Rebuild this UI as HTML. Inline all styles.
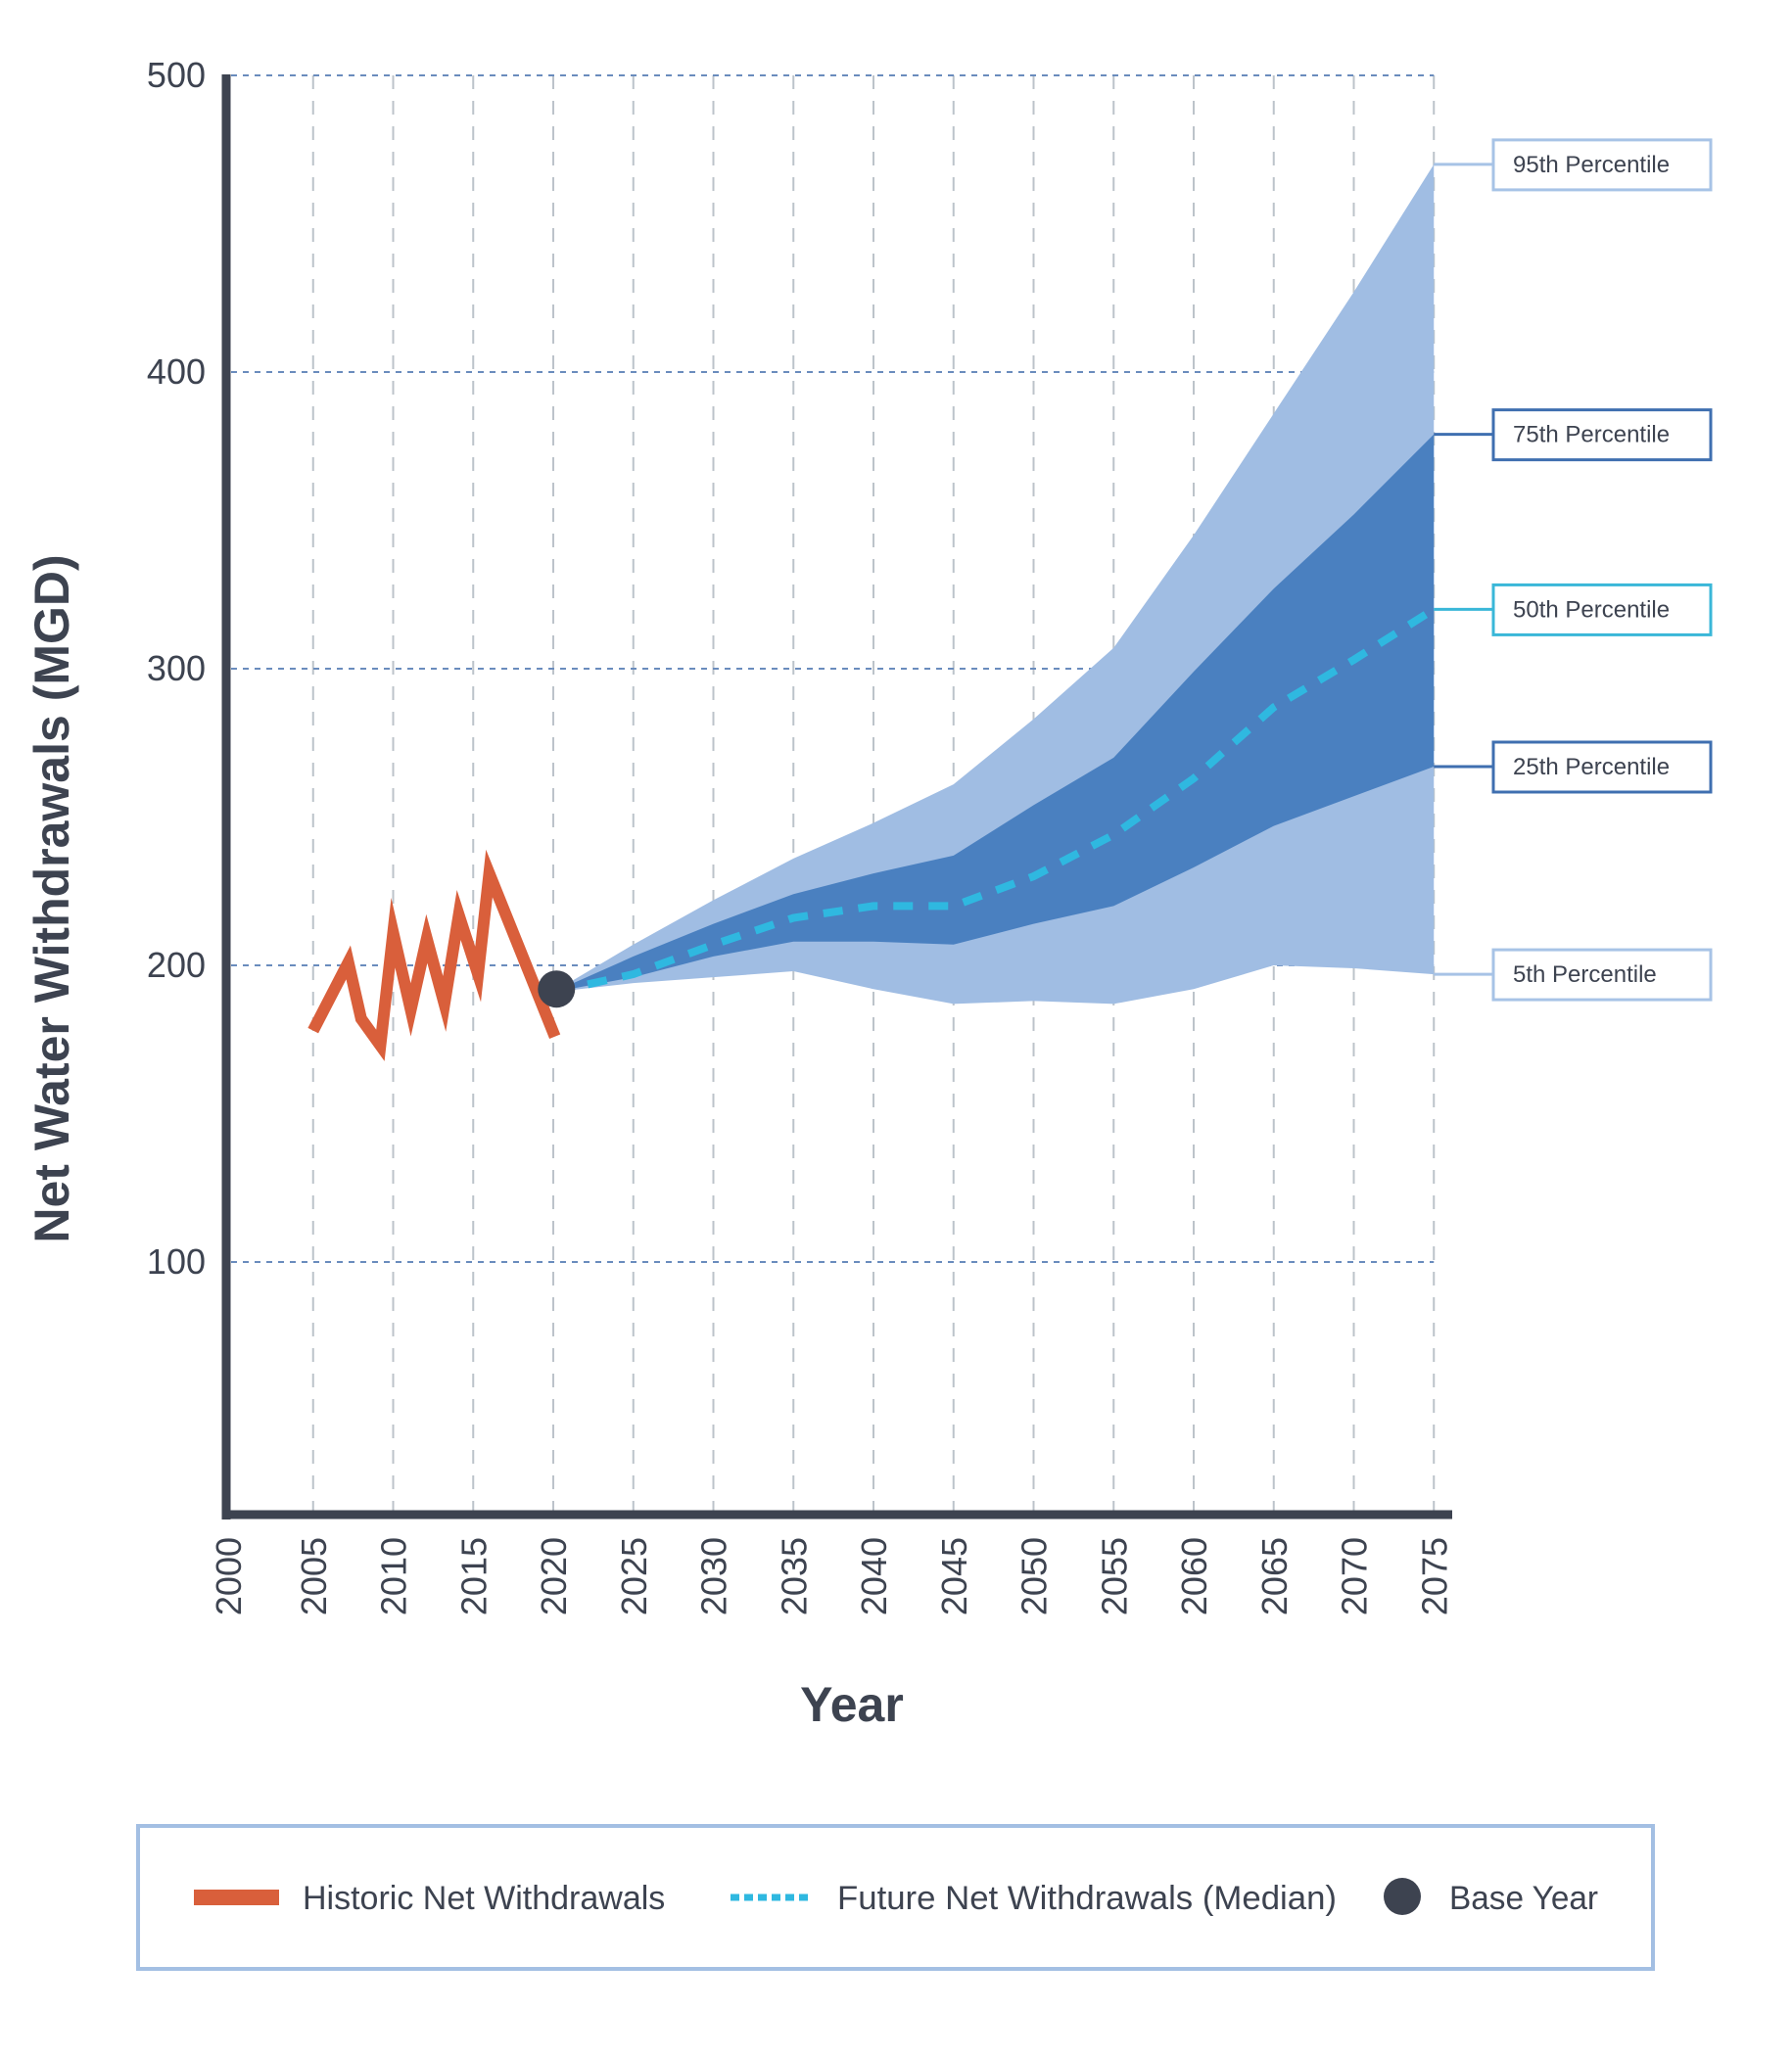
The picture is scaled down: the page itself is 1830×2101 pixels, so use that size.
<!DOCTYPE html>
<html><head><meta charset="utf-8"><style>
html,body{margin:0;padding:0;background:#fff;}
svg{display:block;font-family:"Liberation Sans",sans-serif;}
</style></head><body>
<svg id="chart" width="1830" height="2101" viewBox="0 0 1830 2101" xmlns="http://www.w3.org/2000/svg">
<g id="grid"></g>
<g id="bands"></g>
<g id="lines"></g>
<g id="axes"></g>
<g id="labels"></g>
<text x="0" y="0" transform="translate(70,918) rotate(-90)" text-anchor="middle" font-size="50" font-weight="bold" fill="#3d4350">Net Water Withdrawals (MGD)</text>
<text x="870" y="1758" text-anchor="middle" font-size="50" font-weight="bold" fill="#3d4350">Year</text>
<g>
<rect x="141" y="1865" width="1547" height="146" fill="#fff" stroke="#a3bfe3" stroke-width="4"/>
<line x1="198" y1="1938" x2="285" y2="1938" stroke="#d95f3b" stroke-width="16"/>
<text x="309" y="1950" font-size="34" fill="#3d4350">Historic Net Withdrawals</text>
<line x1="746" y1="1938" x2="830" y2="1938" stroke="#2fb8e0" stroke-width="7" stroke-dasharray="9,5"/>
<text x="855" y="1950" font-size="34" fill="#3d4350" textLength="510" lengthAdjust="spacingAndGlyphs">Future Net Withdrawals (Median)</text>
<circle cx="1432" cy="1937" r="19" fill="#3d4350"/>
<text x="1480" y="1950" font-size="34" fill="#3d4350" textLength="152" lengthAdjust="spacingAndGlyphs">Base Year</text>
</g>
</svg>
<script>
const histYears = [2005, 2007.2, 2008, 2009.2, 2010, 2011.1, 2012.1, 2013.2, 2014.1, 2015.3, 2016, 2020.1];
const histValues = [178, 201, 182, 173, 211, 185, 209, 187, 217, 197, 231, 176];
const futYears = [2020, 2025, 2030, 2035, 2040, 2045, 2050, 2055, 2060, 2065, 2070, 2075];
const p95 = [191, 207, 222, 236, 248, 261, 283, 307, 345, 386, 427, 470];
const p75 = [191, 203, 214, 224, 231, 237, 254, 270, 299, 327, 352, 379];
const p50 = [191, 197, 207, 216, 220, 220, 230, 244, 263, 287, 303, 320];
const p25 = [191, 196, 203, 208, 208, 207, 214, 220, 233, 247, 257, 267];
const p05 = [191, 194, 196, 198, 192, 187, 188, 187, 192, 200, 199, 197];
const baseYear = [2020.2, 192];
const yTicks = [100, 200, 300, 400, 500];
const xTicks = [2000, 2005, 2010, 2015, 2020, 2025, 2030, 2035, 2040, 2045, 2050, 2055, 2060, 2065, 2070, 2075];
const pctLabels = ["95th Percentile", "75th Percentile", "50th Percentile", "25th Percentile", "5th Percentile"];

const NS = "http://www.w3.org/2000/svg";
function X(yr){ return 238 + (yr - 2000) * 16.35; }
function Y(v){ return 986 - (v - 200) * 3.03; }
function mk(parent, tag, attrs, txt){
  const e = document.createElementNS(NS, tag);
  for (const k in attrs) e.setAttribute(k, attrs[k]);
  if (txt !== undefined) e.textContent = txt;
  document.getElementById(parent).appendChild(e);
  return e;
}
const TOP = 77, BOT = 1547;
xTicks.forEach(t => {
  if (t === 2000) return;
  const e = mk("grid", "line", {x1: X(t), x2: X(t), y1: TOP, y2: BOT, stroke: "#bcc3ca", "stroke-width": 2, "stroke-dasharray": "14,12"});
  
  
});
yTicks.forEach(t => {
  const e = mk("grid", "line", {x1: 236, x2: X(2075), y1: Y(t), y2: Y(t), stroke: "#6a8cbd", "stroke-width": 2, "stroke-dasharray": "6,6"});
  
  
  const l = mk("axes", "text", {x: 210, y: Y(t) + 12, "text-anchor": "end", "font-size": 36, fill: "#3d4350"}, String(t));
  
  
});
function band(upper, lower, fill, name){
  let d = "";
  futYears.forEach((yr, i) => { d += (i ? "L" : "M") + X(yr) + "," + Y(upper[i]); });
  for (let i = futYears.length - 1; i >= 0; i--) d += "L" + X(futYears[i]) + "," + Y(lower[i]);
  const e = mk("bands", "path", {d: d + "Z", fill: fill});
  
  
}
band(p95, p05, "#a0bde3", "band-5-95");
band(p75, p25, "#4a80c0", "band-25-75");
function pathOf(xs, vs){ return xs.map((yr, i) => (i ? "L" : "M") + X(yr) + "," + Y(vs[i])).join(""); }
const hist = mk("lines", "path", {d: pathOf(histYears, histValues), fill: "none", stroke: "#d95f3b", "stroke-width": 12, "stroke-linejoin": "miter", "stroke-miterlimit": 10});


const med = mk("lines", "path", {d: pathOf(futYears, p50), fill: "none", stroke: "#2fb8e0", "stroke-width": 8, "stroke-dasharray": "20,16"});


const dot = mk("lines", "circle", {cx: X(baseYear[0]), cy: Y(baseYear[1]), r: 19, fill: "#3d4350"});


const ya = mk("axes", "line", {x1: 231, x2: 231, y1: 76, y2: 1552, stroke: "#3d4350", "stroke-width": 9});


const xa = mk("axes", "line", {x1: 227, x2: 1483, y1: 1547, y2: 1547, stroke: "#3d4350", "stroke-width": 9});


xTicks.forEach(t => {
  const cx = t === 2000 ? 233 : X(t);
  const l = mk("axes", "text", {x: 0, y: 0, transform: "translate(" + (cx + 13) + ",1570) rotate(-90)", "text-anchor": "end", "font-size": 36, fill: "#3d4350"}, String(t));
  
  
});
const last = futYears.length - 1;
const lblVals = [p95[last], p75[last], p50[last], p25[last], p05[last]];
const lblColors = ["#a7c3e6", "#3f6fb0", "#3ab7d8", "#3f6fb0", "#a7c3e6"];
pctLabels.forEach((txt, i) => {
  const y = Y(lblVals[i]);
  const c = mk("labels", "line", {x1: X(2075), x2: 1524, y1: y, y2: y, stroke: lblColors[i], "stroke-width": 3});
  
  
  const r = mk("labels", "rect", {x: 1525, y: y - 25, width: 222, height: 51, fill: "#fff", stroke: lblColors[i], "stroke-width": 3});
  
  
  const t = mk("labels", "text", {x: 1545, y: y + 8, "font-size": 24, fill: "#3d4350"}, txt);
  
  
});
</script>
</body></html>
